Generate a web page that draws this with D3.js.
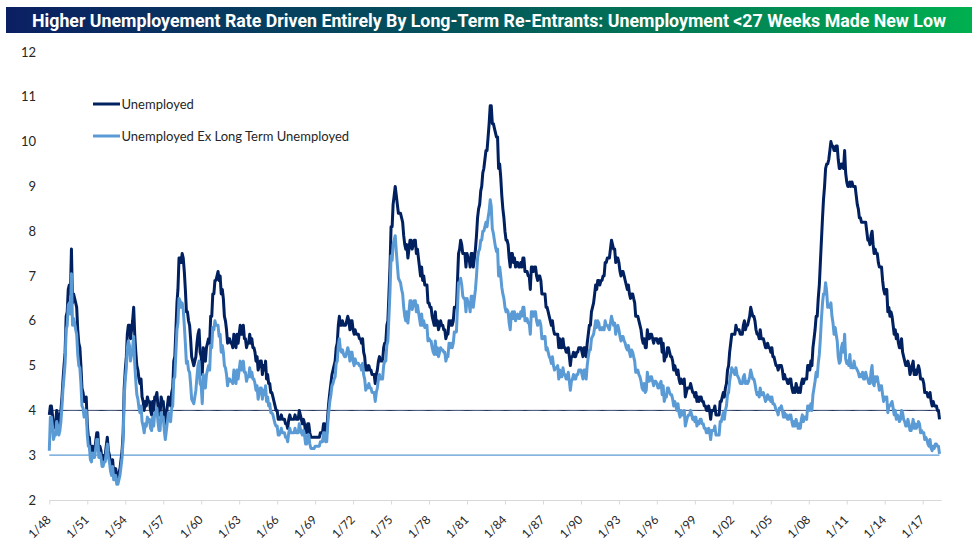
<!DOCTYPE html>
<html><head><meta charset="utf-8">
<script src="https://cdn.jsdelivr.net/npm/d3@7"></script>
<style>body{margin:0;background:#fff}svg{display:block}</style>
</head><body>
<svg id="chart" width="978" height="556"></svg>
<script>
const titleText = "Higher Unemployement Rate Driven Entirely By Long-Term Re-Entrants: Unemployment <27 Weeks Made New Low";
const seriesNames = ["Unemployed", "Unemployed Ex Long Term Unemployed"];
const startYear = 1948; // monthly values from Jan 1948
const unemployed = [
3.9,4.1,4.1,3.9,3.6,3.7,3.7,4.0,3.9,3.7,3.8,4.0,
4.3,4.7,5.0,5.3,6.1,6.2,6.7,6.8,6.6,7.6,6.4,6.6,
6.5,6.4,6.3,5.8,5.5,5.4,5.0,4.5,4.4,4.2,4.2,4.3,
3.7,3.4,3.4,3.1,3.0,3.2,3.1,3.1,3.3,3.5,3.5,3.1,
3.2,3.1,2.9,2.9,3.0,3.0,3.2,3.4,3.1,3.0,2.8,2.7,
2.9,2.6,2.6,2.7,2.5,2.5,2.6,2.7,2.9,3.1,3.5,4.5,
4.9,5.2,5.7,5.9,5.9,5.6,5.8,6.0,6.3,5.7,5.3,5.0,
4.9,4.7,4.6,4.7,4.3,4.2,4.0,4.2,4.1,4.3,4.2,4.2,
4.0,3.9,4.2,4.0,4.3,4.3,4.4,4.1,3.9,3.9,4.3,4.2,
4.2,3.9,3.7,3.9,4.1,4.3,4.2,4.1,4.4,4.5,5.1,5.2,
5.8,6.4,6.7,7.4,7.4,7.3,7.5,7.4,7.1,6.7,6.2,6.2,
6.0,5.9,5.6,5.2,5.1,5.0,5.1,5.2,5.5,5.7,5.8,5.3,
5.2,4.8,5.4,5.2,5.1,5.4,5.5,5.6,5.5,6.1,6.1,6.6,
6.6,6.9,6.9,7.0,7.1,6.9,7.0,6.6,6.7,6.5,6.1,6.0,
5.8,5.5,5.6,5.6,5.5,5.5,5.4,5.7,5.6,5.4,5.7,5.5,
5.7,5.9,5.7,5.7,5.9,5.6,5.6,5.4,5.5,5.5,5.7,5.5,
5.6,5.4,5.4,5.3,5.1,5.2,4.9,5.0,5.1,5.1,4.8,5.0,
4.9,5.1,4.7,4.8,4.6,4.6,4.4,4.4,4.3,4.2,4.1,4.0,
4.0,3.8,3.8,3.8,3.9,3.8,3.8,3.8,3.7,3.7,3.6,3.8,
3.9,3.8,3.8,3.8,3.8,3.9,3.8,3.8,3.8,4.0,3.9,3.8,
3.7,3.8,3.7,3.5,3.5,3.7,3.7,3.5,3.4,3.4,3.4,3.4,
3.4,3.4,3.4,3.4,3.4,3.5,3.5,3.5,3.7,3.7,3.5,3.5,
3.9,4.2,4.4,4.6,4.8,4.9,5.0,5.1,5.4,5.5,5.9,6.1,
5.9,5.9,6.0,5.9,5.9,5.9,6.0,6.1,6.0,5.8,6.0,6.0,
5.8,5.7,5.8,5.7,5.7,5.7,5.6,5.6,5.5,5.6,5.3,5.2,
4.9,5.0,4.9,5.0,4.9,4.9,4.8,4.8,4.8,4.6,4.8,4.9,
5.1,5.2,5.1,5.1,5.1,5.4,5.5,5.5,5.9,6.0,6.6,7.2,
8.1,8.1,8.6,8.8,9.0,8.8,8.6,8.4,8.4,8.4,8.3,8.2,
7.9,7.7,7.6,7.7,7.4,7.6,7.8,7.8,7.6,7.7,7.8,7.8,
7.5,7.6,7.4,7.2,7.0,7.2,6.9,7.0,6.8,6.8,6.8,6.4,
6.4,6.3,6.3,6.1,6.0,5.9,6.2,5.9,6.0,5.8,5.9,6.0,
5.9,5.9,5.8,5.8,5.6,5.7,5.7,6.0,5.9,6.0,5.9,6.0,
6.3,6.3,6.3,6.9,7.5,7.6,7.8,7.7,7.5,7.5,7.5,7.2,
7.5,7.4,7.4,7.2,7.5,7.5,7.2,7.4,7.6,7.9,8.3,8.5,
8.6,8.9,9.0,9.3,9.4,9.6,9.8,9.8,10.1,10.4,10.8,10.8,
10.4,10.4,10.3,10.2,10.1,10.1,9.4,9.5,9.2,8.8,8.5,8.3,
8.0,7.8,7.8,7.7,7.4,7.2,7.5,7.5,7.3,7.4,7.2,7.3,
7.3,7.2,7.2,7.3,7.2,7.4,7.4,7.1,7.1,7.1,7.0,7.0,
6.7,7.2,7.2,7.1,7.2,7.2,7.0,6.9,7.0,7.0,6.9,6.6,
6.6,6.6,6.6,6.3,6.3,6.2,6.1,6.0,5.9,6.0,5.8,5.7,
5.7,5.7,5.7,5.4,5.6,5.4,5.4,5.6,5.4,5.4,5.3,5.3,
5.4,5.2,5.0,5.2,5.2,5.3,5.2,5.2,5.3,5.3,5.4,5.4,
5.4,5.3,5.2,5.4,5.4,5.2,5.5,5.7,5.9,5.9,6.2,6.3,
6.4,6.6,6.8,6.7,6.9,6.9,6.8,6.9,6.9,7.0,7.0,7.3,
7.3,7.4,7.4,7.4,7.6,7.8,7.7,7.6,7.6,7.3,7.4,7.4,
7.3,7.1,7.0,7.1,7.1,7.0,6.9,6.8,6.7,6.8,6.6,6.5,
6.6,6.6,6.5,6.4,6.1,6.1,6.1,6.0,5.9,5.8,5.6,5.5,
5.6,5.4,5.4,5.8,5.6,5.6,5.7,5.7,5.6,5.5,5.6,5.6,
5.6,5.5,5.5,5.6,5.6,5.3,5.5,5.1,5.2,5.2,5.4,5.4,
5.3,5.2,5.2,5.1,4.9,5.0,4.9,4.8,4.9,4.7,4.6,4.7,
4.6,4.6,4.7,4.3,4.4,4.5,4.5,4.5,4.6,4.5,4.4,4.4,
4.3,4.4,4.2,4.3,4.2,4.3,4.3,4.2,4.2,4.1,4.1,4.0,
4.0,4.1,4.0,3.8,4.0,4.0,4.0,4.1,3.9,3.9,3.9,3.9,
4.2,4.2,4.3,4.4,4.3,4.5,4.6,4.9,5.0,5.3,5.5,5.7,
5.7,5.7,5.7,5.9,5.8,5.8,5.8,5.7,5.7,5.7,5.9,6.0,
5.8,5.9,5.9,6.0,6.1,6.3,6.2,6.1,6.1,6.0,5.8,5.7,
5.7,5.6,5.8,5.6,5.6,5.6,5.5,5.4,5.4,5.5,5.4,5.4,
5.3,5.4,5.2,5.2,5.1,5.0,5.0,4.9,5.0,5.0,5.0,4.9,
4.7,4.8,4.7,4.7,4.6,4.6,4.7,4.7,4.5,4.4,4.5,4.4,
4.6,4.5,4.4,4.5,4.4,4.6,4.7,4.6,4.7,4.7,4.7,5.0,
5.0,4.9,5.1,5.0,5.4,5.6,5.8,6.1,6.1,6.5,6.8,7.3,
7.8,8.3,8.7,9.0,9.4,9.5,9.5,9.6,9.8,10.0,9.9,9.9,
9.8,9.8,9.9,9.9,9.6,9.4,9.4,9.5,9.5,9.4,9.8,9.3,
9.1,9.0,9.0,9.1,9.0,9.1,9.0,9.0,9.0,8.8,8.6,8.5,
8.3,8.3,8.2,8.2,8.2,8.2,8.2,8.0,7.8,7.8,7.7,7.9,
8.0,7.7,7.5,7.6,7.5,7.5,7.3,7.2,7.2,7.2,6.9,6.7,
6.6,6.7,6.7,6.2,6.3,6.1,6.2,6.1,5.9,5.7,5.8,5.6,
5.7,5.5,5.4,5.4,5.6,5.3,5.2,5.1,5.0,5.0,5.1,5.0,
4.8,4.9,5.0,5.1,4.8,4.9,4.8,4.9,5.0,4.9,4.7,4.7,
4.7,4.6,4.4,4.4,4.4,4.3,4.3,4.4,4.2,4.1,4.2,4.1,
4.1,4.1,4.0,4.0,3.8
];
const exLongTerm = [
3.1,3.85,3.85,3.65,3.35,3.45,3.45,3.75,3.65,3.45,3.55,3.75,
4.1,4.5,4.75,5.05,5.8,5.9,6.35,6.4,6.15,7.05,5.9,6.05,
5.95,5.8,5.7,5.25,5.0,4.95,4.6,4.1,4.05,3.85,3.9,4.0,
3.45,3.2,3.2,2.9,2.85,3.05,2.95,2.95,3.15,3.35,3.35,2.95,
3.05,2.95,2.75,2.75,2.85,2.85,3.05,3.25,2.95,2.85,2.65,2.55,
2.75,2.45,2.45,2.55,2.35,2.35,2.45,2.55,2.75,2.95,3.35,4.3,
4.7,4.95,5.4,5.55,5.45,5.1,5.25,5.4,5.65,5.05,4.65,4.35,
4.25,4.05,3.95,4.1,3.75,3.65,3.5,3.7,3.65,3.85,3.75,3.8,
3.6,3.55,3.85,3.65,3.95,3.95,4.05,3.75,3.55,3.55,3.95,3.85,
3.85,3.55,3.35,3.55,3.75,3.95,3.85,3.75,4.05,4.1,4.7,4.75,
5.3,5.8,5.95,6.5,6.45,6.3,6.4,6.25,5.9,5.5,5.05,5.1,
4.9,4.85,4.6,4.25,4.2,4.15,4.3,4.45,4.75,5.0,5.1,4.6,
4.55,4.15,4.8,4.6,4.5,4.8,4.9,5.0,4.9,5.45,5.4,5.85,
5.8,6.0,5.9,5.9,5.9,5.65,5.7,5.3,5.45,5.3,5.0,4.95,
4.8,4.55,4.7,4.7,4.65,4.65,4.6,4.9,4.8,4.6,4.9,4.7,
4.9,5.1,4.9,4.9,5.1,4.85,4.85,4.65,4.75,4.75,4.95,4.75,
4.85,4.7,4.7,4.6,4.45,4.55,4.25,4.4,4.5,4.5,4.25,4.45,
4.35,4.55,4.2,4.3,4.1,4.15,3.95,3.95,3.9,3.8,3.7,3.65,
3.65,3.45,3.45,3.5,3.6,3.5,3.5,3.5,3.4,3.4,3.3,3.5,
3.6,3.5,3.5,3.5,3.5,3.6,3.5,3.5,3.5,3.7,3.6,3.5,
3.45,3.55,3.45,3.25,3.25,3.45,3.45,3.25,3.15,3.15,3.15,3.15,
3.2,3.2,3.2,3.2,3.2,3.3,3.3,3.3,3.5,3.5,3.3,3.3,
3.7,4.0,4.2,4.35,4.55,4.6,4.7,4.75,5.05,5.1,5.45,5.6,
5.35,5.3,5.35,5.25,5.2,5.2,5.3,5.4,5.3,5.1,5.3,5.3,
5.1,5.0,5.15,5.05,5.05,5.05,5.0,5.0,4.9,5.05,4.8,4.7,
4.45,4.55,4.5,4.6,4.5,4.5,4.4,4.4,4.4,4.2,4.4,4.5,
4.7,4.8,4.7,4.7,4.7,5.0,5.1,5.1,5.45,5.55,6.1,6.65,
7.45,7.35,7.7,7.8,7.9,7.55,7.25,6.95,6.9,6.85,6.7,6.6,
6.3,6.1,6.0,6.2,5.95,6.2,6.45,6.45,6.25,6.35,6.45,6.45,
6.2,6.35,6.2,6.05,5.9,6.15,5.9,6.0,5.85,5.9,5.9,5.55,
5.6,5.55,5.55,5.4,5.3,5.25,5.55,5.25,5.4,5.2,5.3,5.4,
5.35,5.35,5.3,5.3,5.1,5.2,5.2,5.5,5.4,5.5,5.4,5.5,
5.75,5.75,5.75,6.3,6.85,6.85,6.95,6.8,6.55,6.5,6.5,6.2,
6.5,6.4,6.4,6.2,6.55,6.55,6.3,6.5,6.7,7.0,7.4,7.55,
7.6,7.8,7.8,8.0,8.0,8.1,8.2,8.1,8.3,8.45,8.7,8.55,
8.05,7.95,7.8,7.65,7.55,7.6,7.0,7.2,7.0,6.75,6.6,6.5,
6.3,6.2,6.25,6.2,5.95,5.8,6.15,6.2,6.05,6.2,6.0,6.1,
6.15,6.05,6.05,6.2,6.1,6.3,6.3,6.0,6.0,6.05,5.95,5.95,
5.7,6.2,6.2,6.1,6.2,6.2,6.0,5.9,6.0,6.0,5.9,5.6,
5.6,5.65,5.65,5.35,5.4,5.3,5.2,5.15,5.05,5.2,5.0,4.9,
4.95,4.95,5.0,4.7,4.9,4.75,4.75,4.95,4.8,4.8,4.7,4.7,
4.85,4.65,4.45,4.65,4.7,4.8,4.7,4.7,4.8,4.8,4.9,4.9,
4.9,4.8,4.7,4.9,4.9,4.7,5.0,5.2,5.35,5.35,5.6,5.65,
5.7,5.85,6.0,5.85,6.0,5.95,5.8,5.85,5.8,5.85,5.8,6.0,
5.9,5.9,5.85,5.8,5.95,6.1,6.0,5.9,5.95,5.7,5.85,5.9,
5.8,5.65,5.55,5.65,5.65,5.55,5.5,5.4,5.35,5.45,5.3,5.2,
5.35,5.3,5.2,5.1,4.85,4.85,4.9,4.8,4.75,4.65,4.5,4.45,
4.6,4.4,4.45,4.85,4.65,4.65,4.75,4.75,4.65,4.55,4.65,4.65,
4.6,4.5,4.5,4.6,4.65,4.35,4.55,4.2,4.3,4.3,4.5,4.5,
4.4,4.35,4.35,4.25,4.1,4.2,4.1,4.0,4.15,3.95,3.85,4.0,
3.9,3.9,4.0,3.65,3.75,3.85,3.9,3.9,4.0,3.9,3.8,3.85,
3.75,3.85,3.65,3.75,3.7,3.8,3.8,3.7,3.7,3.6,3.6,3.5,
3.5,3.6,3.55,3.35,3.55,3.55,3.55,3.65,3.45,3.45,3.45,3.45,
3.75,3.75,3.85,3.95,3.8,4.0,4.1,4.35,4.4,4.65,4.8,4.95,
4.9,4.85,4.8,4.95,4.8,4.75,4.7,4.6,4.6,4.6,4.75,4.8,
4.6,4.65,4.6,4.65,4.75,4.9,4.8,4.7,4.7,4.6,4.45,4.35,
4.4,4.3,4.5,4.35,4.35,4.4,4.3,4.2,4.25,4.35,4.25,4.3,
4.2,4.3,4.15,4.15,4.1,4.0,4.0,3.9,4.05,4.05,4.1,4.0,
3.85,3.95,3.85,3.9,3.8,3.8,3.9,3.9,3.75,3.65,3.75,3.65,
3.8,3.7,3.6,3.7,3.6,3.8,3.9,3.75,3.85,3.85,3.8,4.1,
4.1,4.0,4.15,4.0,4.35,4.5,4.65,4.85,4.75,5.05,5.25,5.6,
6.05,6.4,6.6,6.6,6.85,6.65,6.3,6.35,6.3,6.4,6.1,5.95,
5.7,5.85,5.7,5.55,5.2,5.05,5.1,5.4,5.5,5.3,5.7,5.15,
5.05,5.1,5.0,5.25,4.95,5.0,4.95,5.1,4.95,4.95,4.9,4.85,
4.75,4.8,4.75,4.85,4.7,4.7,4.85,4.75,4.7,4.6,4.6,4.85,
5.0,4.6,4.55,4.75,4.65,4.75,4.6,4.45,4.55,4.55,4.35,4.2,
4.3,4.25,4.3,3.95,4.1,4.1,4.15,4.2,4.05,3.9,4.0,3.8,
3.9,3.85,3.75,3.8,4.0,3.95,3.8,3.75,3.65,3.65,3.8,3.7,
3.55,3.55,3.65,3.8,3.6,3.7,3.6,3.65,3.75,3.7,3.5,3.55,
3.5,3.5,3.35,3.4,3.35,3.25,3.2,3.35,3.15,3.1,3.2,3.15,
3.25,3.25,3.2,3.2,3.03
];
const yTicks = [2,3,4,5,6,7,8,9,10,11,12];
const xTickYears = d3.range(1948, 2018, 3);
const refValues = [4, 3];

const svg = d3.select("#chart");
const W = 978, H = 556;
const dark = "#002060", light = "#5b9bd5";
const labelFont = "Lato, 'Open Sans', 'Liberation Sans', sans-serif";

// title bar
const defs = svg.append("defs");
const grad = defs.append("linearGradient").attr("id","tg").attr("x1","0%").attr("x2","100%");
grad.append("stop").attr("offset","0%").attr("stop-color","#0b1f63");
grad.append("stop").attr("offset","50%").attr("stop-color","#03585a");
grad.append("stop").attr("offset","100%").attr("stop-color","#00b050");
svg.append("rect").attr("x",6).attr("y",7).attr("width",966).attr("height",26).attr("fill","url(#tg)");
svg.append("text").attr("x",489).attr("y",20.5).attr("text-anchor","middle")
  .attr("dominant-baseline","central")
  .attr("font-family","'Liberation Sans Narrow', 'Roboto', Lato, sans-serif")
  .attr("font-weight","bold").attr("font-size",17.5).attr("fill","#fff")
  .attr("textLength",914).attr("lengthAdjust","spacingAndGlyphs")
  .text(titleText);

const dates = unemployed.map((_, i) => new Date(startYear, i, 1));
const x = d3.scaleTime().domain([new Date(1948,0,1), new Date(2017,0,1)]).range([49.3, 922.7]);
const y = d3.scaleLinear().domain([2, 12]).range([500, 52]);

// y labels
const yAxis = svg.append("g").attr("transform","translate(40,0)")
  .call(d3.axisLeft(y).tickValues(yTicks).tickSize(0).tickPadding(4).tickFormat(d3.format("d")));
yAxis.select(".domain").remove();
yAxis.selectAll("text").attr("font-family",labelFont).attr("font-size",13).attr("fill","#262626");

// x axis
const axisEnd = x(new Date(2018,6,1));
svg.append("line").attr("x1",x(dates[0])).attr("x2",axisEnd).attr("y1",500.5).attr("y2",500.5)
  .attr("stroke","#d9d9d9").attr("stroke-width",1);
const tickDates = xTickYears.map(yr => new Date(yr,0,1));
const xAxis = svg.append("g").attr("transform","translate(0,500.5)")
  .call(d3.axisBottom(x).tickValues(tickDates).tickSize(4)
    .tickFormat(d => "1/" + String(d.getFullYear()).slice(2)));
xAxis.select(".domain").remove();
xAxis.selectAll(".tick line").attr("stroke","#d9d9d9");
xAxis.selectAll("text").attr("font-family",labelFont).attr("font-size",12).attr("fill","#262626")
  .attr("text-anchor","end").attr("dy","0.35em")
  .attr("transform","translate(-1,17) rotate(-45)").attr("y",0).attr("x",0);

// reference lines
const refData = refValues.map(v => dates.map(d => ({d, v})));
const refLine = d3.line().x(p => x(p.d)).y(p => y(p.v));
svg.append("path").datum(refData[0]).attr("d",refLine).attr("fill","none").attr("stroke","#0d1f4d").attr("stroke-width",1);
svg.append("path").datum(refData[1]).attr("d",refLine).attr("fill","none").attr("stroke",light).attr("stroke-width",1.2);

// series
const line = d3.line().x((v,i) => x(dates[i])).y(v => y(v));
svg.append("path").datum(unemployed).attr("d",line).attr("fill","none")
  .attr("stroke",dark).attr("stroke-width",3).attr("stroke-linejoin","round");
svg.append("path").datum(exLongTerm).attr("d",line).attr("fill","none")
  .attr("stroke",light).attr("stroke-width",3).attr("stroke-linejoin","round");

// legend
const legend = [{name:seriesNames[0], color:dark, y:104},{name:seriesNames[1], color:light, y:136}];
legend.forEach(l => {
  svg.append("line").attr("x1",93).attr("x2",120).attr("y1",l.y).attr("y2",l.y)
    .attr("stroke",l.color).attr("stroke-width",3);
  svg.append("text").attr("x",121.5).attr("y",l.y).attr("dominant-baseline","central")
    .attr("font-family",labelFont).attr("font-size",13).attr("fill","#262626").text(l.name);
});
</script>
</body></html>
